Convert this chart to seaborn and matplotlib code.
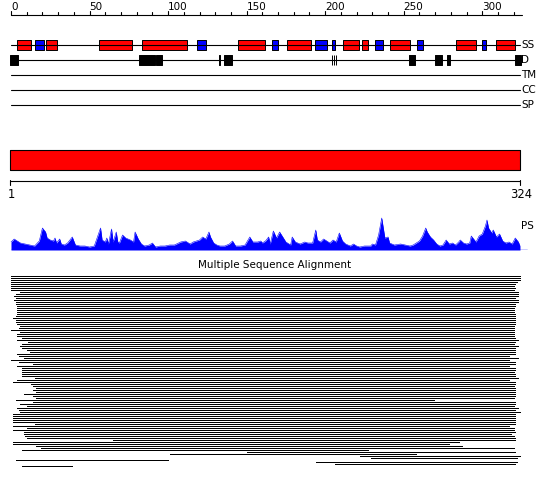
import matplotlib
matplotlib.use("Agg")
import matplotlib.pyplot as plt
import seaborn as sns

# Sequence / ruler
seq_len = 324
ruler_ticks = list(range(0, 321, 10))
ruler_labels = [0, 50, 100, 150, 200, 250, 300]
track_names = ["SS", "D", "TM", "CC", "SP"]

# Secondary structure (residues)
helix_start = [4, 22.5, 56, 83.5, 144.5, 176, 211.5, 223.5, 241, 283, 309]
helix_end = [12.5, 29.5, 77, 112, 162, 191, 221.5, 227, 254, 296, 321]
strand_start = [15.5, 118.5, 166, 193.5, 204.5, 232, 258.5, 300]
strand_end = [21, 124, 170, 201, 206.5, 237, 262, 302.5]

# Disordered regions
dis_start = [-0.5, 81.5, 92.3, 132.5, 135.6, 204.1, 205.4, 206.7, 253.4, 270.1, 277.6, 320.8]
dis_end = [4.3, 91.7, 96.1, 133.2, 140.7, 204.6, 205.9, 207.2, 257, 274.2, 279.3, 324.5]

# Profile score (PS)
ps_pos = [0, 2, 6, 9, 12, 15, 18, 20, 22, 23, 25, 27, 28, 29, 31, 32, 34, 36, 39,
          41, 44, 47, 50, 53, 57, 58, 60, 61, 62, 64, 65, 67, 68, 69, 71, 73, 76,
          78, 79, 81, 83, 85, 88, 90, 92, 95, 98, 101, 104, 108, 111, 114, 116,
          118, 120, 122, 124, 126, 127, 129, 131, 133, 136, 139, 141, 143, 146,
          149, 152, 154, 157, 159, 160, 162, 164, 165, 167, 169, 171, 173, 175,
          178, 179, 181, 184, 187, 189, 192, 194, 195, 197, 199, 201, 203, 205,
          207, 209, 211, 213, 216, 218, 220, 222, 225, 229, 230, 232, 234, 236,
          238, 240, 241, 244, 248, 251, 254, 256, 258, 260, 262, 264, 265, 267,
          269, 271, 273, 275, 277, 279, 281, 283, 285, 286, 288, 290, 292, 293,
          296, 298, 300, 302, 303, 304, 306, 307, 309, 311, 313, 315, 317, 319,
          321, 323, 324]
ps_score = [8, 11, 7, 6, 5, 4, 9, 22, 18, 12, 10, 9, 12, 7, 11, 6, 5, 7, 13,
            5, 4, 4, 3, 4, 22, 10, 8, 12, 6, 21, 8, 18, 8, 7, 15, 12, 10,
            8, 18, 11, 6, 4, 5, 7, 3, 4, 4, 5, 5, 8, 9, 6, 8,
            9, 10, 13, 11, 18, 13, 7, 5, 4, 4, 6, 9, 4, 4,
            5, 13, 8, 8, 9, 7, 9, 13, 6, 19, 12, 18, 13, 8,
            5, 13, 8, 6, 8, 7, 7, 20, 10, 8, 11, 9, 7, 10,
            8, 17, 9, 6, 4, 6, 4, 3, 4, 4, 6, 5, 15, 32,
            12, 13, 7, 5, 6, 5, 4, 5, 7, 9, 14, 22, 18, 13,
            10, 6, 4, 5, 10, 6, 7, 5, 8, 10, 7, 6, 7, 14,
            8, 14, 16, 24, 30, 22, 17, 20, 13, 16, 9, 7, 8, 6,
            12, 8, 4]

# Multiple sequence alignment rows (first / last aligned residue)
msa_start = [0, 0, 0, 0, 0, 0, 0, 0, 6, 3, 2, 3, 2, 3, 3, 4, 4, 4, 4, 4,
             3, 1, 3, 3, 4, 6, 5, 0, 6, 4, 4, 7, 4, 11, 7, 6, 7, 10, 12, 4,
             5, 8, 0, 5, 14, 4, 7, 7, 7, 7, 7, 15, 4, 1, 13, 14, 16, 14, 16, 8,
             14, 16, 3, 14, 6, 10, 4, 5, 6, 1, 1, 1, 1, 1, 15, 1, 10, 1, 8, 8,
             9, 10, 65, 1, 1, 16, 19, 7, 150, 101, 222, 229, 3, 194, 206, 7]
msa_end = [324, 324, 324, 322, 321, 320, 321, 320, 323, 323, 323, 321, 323, 323, 321, 321, 320, 320, 320, 321,
           321, 321, 321, 321, 321, 320, 320, 320, 320, 320, 320, 321, 323, 321, 320, 323, 321, 321, 321, 321,
           317, 323, 317, 321, 321, 317, 321, 321, 320, 321, 321, 323, 317, 321, 321, 320, 321, 321, 321, 321,
           321, 320, 269, 321, 321, 320, 323, 321, 324, 321, 321, 321, 321, 321, 321, 317, 320, 320, 321, 318,
           320, 321, 321, 285, 279, 287, 320, 227, 321, 258, 324, 322, 100, 322, 321, 39]

sns.set_style("white")
plt.rcParams['font.family'] = ['DejaVu Sans']
plt.rcParams['text.color'] = 'black'

W, H = 550, 487
fig = plt.figure(figsize=(W / 100, H / 100), dpi=100)
# x axis in residues: residue 0 sits at pixel 11, 1.5709 px per residue
x0, x1 = -11 / 1.5709, (W - 11) / 1.5709

ax = fig.add_axes([0, 0, 1, 1])
ax.set_xlim(x0, x1)
ax.set_ylim(H, 0)
ax.axis('off')

# top ruler
ax.plot([0, 325], [15, 15], color='black', lw=0.8)
for t in ruler_ticks:
    top = 10.5 if t in ruler_labels else 12
    ax.plot([t, t], [top, 15], color='black', lw=0.8)
for t in ruler_labels:
    ax.text(t, 9.8, str(t), ha='left', va='baseline', fontsize=7.5)

# feature tracks
track_y = [45, 60, 75, 90, 105]
for name, y in zip(track_names, track_y):
    ax.plot([0, seq_len], [y, y], color='black', lw=0.8)
    ax.text(seq_len + 0.6, y, name, ha='left', va='center', fontsize=7.5)

ax.broken_barh([(s, e - s) for s, e in zip(helix_start, helix_end)], (40, 10),
               facecolors='#ff0000', edgecolors='black', linewidth=0.7)
ax.broken_barh([(s, e - s) for s, e in zip(strand_start, strand_end)], (40, 10),
               facecolors='#0000ff', edgecolors='black', linewidth=0.7)
ax.broken_barh([(s, e - s) for s, e in zip(dis_start, dis_end)], (55, 10),
               facecolors='black', edgecolors='black', linewidth=0.7)

# domain bar and its ruler
ax.broken_barh([(-0.6, seq_len + 0.6)], (150, 20),
               facecolors='#ff0000', edgecolors='black', linewidth=0.8)
ax.plot([-0.6, seq_len], [180.5, 180.5], color='black', lw=0.8)
for t in [-0.6, seq_len]:
    ax.plot([t, t], [179.5, 185], color='black', lw=0.8)
ax.text(0.3, 188, "1", ha='center', va='top', fontsize=8.3)
ax.text(seq_len + 0.6, 188, str(seq_len), ha='center', va='top', fontsize=8.3)

# profile score
pax = fig.add_axes([0, (H - 250) / H, 1, 35 / H])
pax.set_xlim(x0, x1)
pax.set_ylim(0, 35)
pax.axis('off')
pax.fill_between(ps_pos, ps_score, 0, color='#0000ff', lw=0)
sns.lineplot(x=ps_pos, y=ps_score, ax=pax, color='#0000ff', lw=0.4)
pax.plot([0, 328.5], [0.5, 0.5], color='#0000ff', lw=1.0)
ax.text(324.8, 226, "PS", ha='left', va='center', fontsize=7.5)

# alignment
ax.text((275 - 11) / 1.5709, 265, "Multiple Sequence Alignment",
        ha='center', va='center', fontsize=7.5)
rows_y = [275.5 + 2 * i for i in range(len(msa_start))]
ax.hlines(rows_y, msa_start, msa_end, color='black', lw=0.6, antialiased=False)

fig.savefig("out.png", dpi=100)
